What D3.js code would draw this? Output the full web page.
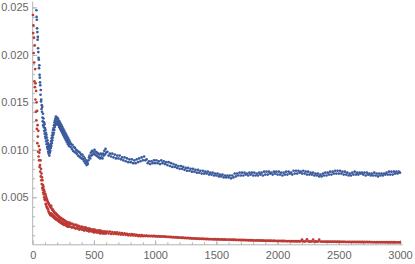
<!DOCTYPE html>
<html>
<head>
<meta charset="utf-8">
<script src="https://cdn.jsdelivr.net/npm/d3@7"></script>
<style>
  body { margin: 0; background: #fff; }
  .axis text { font-family: "Liberation Sans", Arial, sans-serif; font-size: 11px; fill: #666; }
  .axis line, .axis path { stroke: #b3b3b3; }
</style>
</head>
<body>
<div id="chart"></div>
<script>
// values are in units of 1e-4; null = above the plot range (not drawn)
// segment A: x = 2..300 step 2, segment B: x = 305..600 step 5, segment C: x = 610..3000 step 10
var blueA = [null, null, null, null, null, null, null, null, null, null, null, null, null, null,
  247, 240, 237, 228, 224, 216, 219, 207, 203, 197,
  195, 186, 189, 179, 176, 171, 168, 158, 163, 151,
  153, 143, 147, 140, 145, 134, 130, 138, 126, 133,
  124, 129, 120, 127, 117, 123, 114, 121, 112, 118,
  109, 116, 106, 113, 103, 110, 101, 107, 98, 105,
  96, 103, 99, 94, 101, 97, 104, 99, 106, 102,
  109, 104, 112, 107, 115, 110, 118, 113, 121, 116,
  123, 118, 126, 121, 129, 124, 131, 126, 133, 128,
  135, 129, 133, 127, 134, 130, 132, 127, 133, 128,
  131, 126, 129, 124, 130, 125, 127, 122, 128, 123,
  125, 120, 126, 121, 123, 118, 124, 119, 121, 116,
  122, 117, 119, 114, 120, 115, 117, 112, 118, 113,
  115, 110, 116, 111, 113, 108, 114, 109, 111, 106,
  112, 107, 109, 104, 110, 106];
var blueB = [108, 103, 106, 101, 105, 99, 103, 98, 102, 97,
  100, 96, 99, 94, 98, 93, 97, 92, 95, 91,
  95, 90, 93, 88, 91, 86, 89, 84, 87, 85,
  89, 92, 94, 91, 97, 94, 99, 95, 98, 96,
  100, 95, 98, 94, 97, 93, 96, 92, 95, 91,
  96, 92, 95, 91, 96, 94, 99, 95, 101, 97];
var blueC = [98, 94, 96, 93, 96, 92, 95, 91, 94, 91,
  94, 90, 92, 89, 92, 88, 91, 87, 90, 87,
  90, 86, 89, 86, 90, 87, 91, 88, 92, 89,
  93, 89, 90, 86, 88, 85, 88, 86, 89, 86,
  89, 86, 88, 85, 89, 86, 88, 85, 87, 84,
  87, 83, 86, 82, 85, 82, 84, 81, 83, 80,
  83, 80, 82, 79, 81, 78, 81, 78, 80, 77,
  80, 77, 79, 76, 79, 76, 78, 75, 78, 75,
  77, 75, 77, 74, 76, 74, 76, 73, 75, 73,
  75, 72, 74, 72, 74, 71, 73, 71, 73, 71,
  73, 70, 73, 71, 75, 72, 75, 73, 76, 73,
  76, 73, 76, 74, 75, 73, 76, 74, 76, 73,
  76, 73, 75, 73, 76, 74, 76, 73, 77, 74,
  77, 74, 77, 75, 76, 74, 77, 75, 77, 74,
  77, 74, 76, 73, 76, 74, 77, 74, 77, 75,
  76, 74, 78, 75, 78, 75, 78, 76, 77, 75,
  78, 75, 77, 74, 77, 74, 76, 74, 76, 73,
  75, 73, 75, 72, 74, 72, 75, 73, 76, 73,
  76, 74, 77, 74, 77, 75, 78, 75, 78, 75,
  78, 75, 77, 74, 77, 74, 76, 73, 75, 73,
  76, 74, 77, 74, 76, 74, 76, 75, 76, 74,
  76, 73, 76, 74, 75, 73, 75, 73, 76, 73,
  75, 72, 75, 73, 75, 73, 75, 74, 76, 74,
  77, 74, 77, 74, 77, 75, 77, 75, 77, 76];

var redA = [242, 223, 231, 202, 218, 192, 172, 210, 166, 185,
  153, 170, 140, 162, 131, 150, 122, 141, 107, 126,
  114, 98, 120, 93, 104, 89, 97, 82, 100, 84,
  77, 89, 72, 80, 68, 75, 64, 71, 60, 68,
  58, 63, 55, 61, 53, 58, 50, 56, 48, 54,
  47, 53, 43, 51, 42, 49, 40, 48, 39, 46,
  38, 45, 37, 44, 35, 43, 34, 42, 33, 41,
  32, 40, 31, 39, 33, 41, 31, 38, 32, 37,
  30, 37, 31, 36, 29, 35, 30, 34, 28, 34,
  29, 33, 27, 33, 28, 32, 27, 32, 26, 31,
  27, 31, 26, 30, 25, 30, 26, 29, 24, 29,
  25, 28, 24, 28, 23, 28, 24, 27, 23, 27,
  22, 27, 23, 26, 22, 26, 21, 26, 22, 25,
  21, 25, 22, 25, 21, 24, 20, 24, 21, 24,
  20, 23, 19, 23, 20, 23, 19, 23, 20, 22];
var redB = [23, 19, 22, 18, 22, 19, 21, 18, 21, 17,
  21, 18, 20, 17, 20, 16, 19, 17, 19, 16,
  19, 16, 18, 15, 18, 16, 18, 15, 17, 15,
  17, 14, 17, 15, 16, 14, 16, 14, 16, 13,
  16, 14, 15, 13, 15, 13, 15, 13, 15, 12,
  15, 13, 14, 12, 14, 12, 14, 12, 14, 12];
var redC = [14, 12, 14, 11.5, 13.5, 11.5, 13, 11.5, 13, 11,
  12.5, 10.8, 12.2, 10.6, 12, 10.5, 11.5, 10, 11.3, 9.8,
  11.2, 9.8, 11, 9.6, 10.5, 9.2, 10.3, 9.1, 10.2, 9,
  9.8, 9.2, 9.6, 9.1, 9.5, 9, 9.4, 8.9, 9.3, 8.8,
  9.2, 8.7, 9, 8.6, 9, 8.5, 8.9, 8.4, 8.7, 8.2,
  8.5, 8, 8.3, 7.9, 8.1, 7.7, 8, 7.6, 7.8, 7.4,
  7.7, 7.2, 7.5, 7.1, 7.3, 6.9, 7.2, 6.8, 7, 6.6,
  6.9, 6.5, 6.7, 6.3, 6.6, 6.2, 6.5, 6.1, 6.4, 6,
  6.3, 5.9, 6.2, 5.8, 6.1, 5.8, 6, 5.7, 5.9, 5.6,
  5.9, 5.5, 5.8, 5.5, 5.7, 5.4, 5.7, 5.3, 5.6, 5.3,
  5.5, 5.2, 5.4, 5.1, 5.4, 5, 5.3, 5, 5.2, 4.9,
  5.1, 4.8, 5.1, 4.7, 5, 4.7, 4.9, 4.6, 4.9, 4.5,
  4.8, 4.5, 4.7, 4.4, 4.7, 4.3, 4.6, 4.3, 4.5, 4.2,
  4.5, 4.1, 4.4, 4.1, 4.3, 4, 4.3, 4, 4.2, 3.9,
  4.2, 3.9, 4.1, 3.8, 4.1, 3.8, 4, 3.7, 4, 3.7,
  3.9, 3.6, 3.9, 3.6, 3.8, 3.6, 3.8, 3.5, 3.8, 5.6,
  3.7, 3.5, 3.7, 5.8, 3.7, 3.4, 3.6, 3.4, 5.5, 3.3,
  3.6, 3.3, 3.5, 5.4, 3.5, 3.2, 3.5, 3.2, 3.4, 3.2,
  3.4, 3.1, 3.4, 3.1, 3.3, 3.1, 3.3, 3, 3.3, 3,
  3.2, 3, 3.2, 3, 3.2, 2.9, 3.2, 2.9, 3.1, 2.9,
  3.1, 2.9, 3.1, 2.8, 3.1, 2.8, 3, 2.8, 3, 2.8,
  3, 2.7, 3, 2.7, 3, 2.7, 2.9, 2.7, 2.9, 2.7,
  2.9, 2.6, 2.9, 2.6, 2.9, 2.6, 2.8, 2.6, 2.8, 2.6,
  2.8, 2.5, 2.8, 2.5, 2.8, 2.5, 2.7, 2.5, 2.7, 2.5];

var xTicks = [0, 500, 1000, 1500, 2000, 2500, 3000];
var yTicks = [0.005, 0.010, 0.015, 0.020, 0.025];

var w = 415, h = 264;

// sample positions on the x axis
var xs = d3.range(2, 301, 2).concat(d3.range(305, 601, 5), d3.range(610, 3001, 10));

var toPoints = function(vals) {
    var out = [];
    vals.forEach(function(v, i) {
        if (v != null) out.push([xs[i], v * 1e-4]);
    });
    return out;
};
var blue = toPoints(blueA.concat(blueB, blueC));
var red = toPoints(redA.concat(redB, redC));

var x = d3.scaleLinear().domain([0, 3000]).range([32.7, 400]);
var y = d3.scaleLinear().domain([0, 0.025]).range([244.8, 7.4]);

var svg = d3.select("#chart")
    .append("svg")
    .attr("width", w)
    .attr("height", h);

// minor ticks
svg.append("g")
    .attr("class", "axis")
    .attr("transform", "translate(" + x(0) + ",0)")
    .call(d3.axisLeft(y).tickValues(d3.range(0.001, 0.0251, 0.001)).tickSize(-2.5).tickFormat(""))
    .call(function(g) { g.select(".domain").remove(); });
svg.append("g")
    .attr("class", "axis")
    .attr("transform", "translate(0," + y(0) + ")")
    .call(d3.axisBottom(x).tickValues(d3.range(100, 3001, 100)).tickSize(-2.5).tickFormat(""))
    .call(function(g) { g.select(".domain").remove(); });

// major ticks + labels
svg.append("g")
    .attr("class", "axis")
    .attr("transform", "translate(" + x(0) + ",0)")
    .call(d3.axisLeft(y).tickValues(yTicks).tickSize(-4.5).tickPadding(4).tickFormat(d3.format(".3f")))
    .call(function(g) { g.select(".domain").remove(); });
svg.append("g")
    .attr("class", "axis")
    .attr("transform", "translate(0," + y(0) + ")")
    .call(d3.axisBottom(x).tickValues(xTicks).tickSize(-4.5).tickPadding(6).tickFormat(d3.format("d")))
    .call(function(g) { g.select(".domain").remove(); });

// axis lines
svg.append("line")
    .attr("x1", x(0)).attr("x2", x(0))
    .attr("y1", y(0)).attr("y2", y(0.0256))
    .attr("stroke", "#b3b3b3");
svg.append("line")
    .attr("x1", x(0)).attr("x2", x(3022))
    .attr("y1", y(0)).attr("y2", y(0))
    .attr("stroke", "#b3b3b3");

svg.append("g").selectAll("circle")
    .data(blue)
    .enter().append("circle")
    .attr("cx", function(d) { return x(d[0]); })
    .attr("cy", function(d) { return y(d[1]); })
    .attr("r", 1.35)
    .attr("fill", "#3b5b9e");

svg.append("g").selectAll("circle")
    .data(red)
    .enter().append("circle")
    .attr("cx", function(d) { return x(d[0]); })
    .attr("cy", function(d) { return y(d[1]); })
    .attr("r", 1.35)
    .attr("fill", "#bd3a34");
</script>
</body>
</html>
